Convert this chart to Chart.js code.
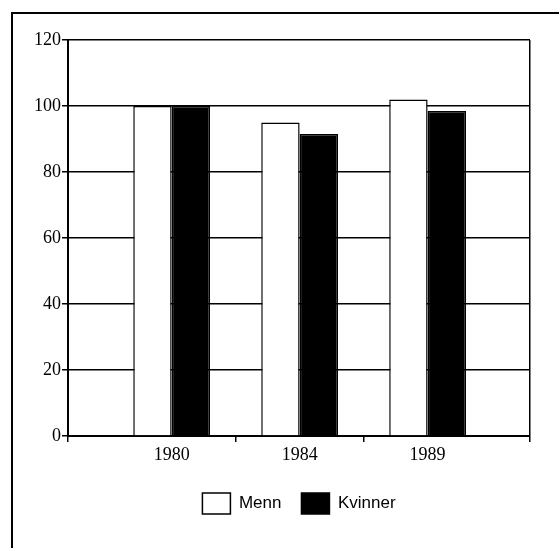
<!DOCTYPE html>
<html lang="no">
<head>
    <meta charset="UTF-8">
    <title>Menn og kvinner</title>
    <script src="https://cdn.jsdelivr.net/npm/chart.js"></script>
    <style>
        html, body { margin: 0; padding: 0; background: #fff; overflow: hidden; }
        .frame {
            position: absolute; left: 11px; top: 12px;
            width: 700px; height: 700px;
            border-left: 2.5px solid #000; border-top: 2.5px solid #000;
        }
        .canvas-container { position: absolute; left: 0; top: 0; width: 559px; height: 548px; }
    </style>
</head>
<body>
<div class="frame"></div>
<div class="canvas-container">
    <canvas id="chart" width="559" height="548"></canvas>
</div>

<script>
    // values
    const years = ['1980', '1984', '1989'];
    const menn = [100, 95, 102];
    const kvinner = [100, 91.5, 98.5];
    const yTicks = [0, 20, 40, 60, 80, 100, 120];

    // x runs as a number axis so the plot box can be wider than the three groups
    const X_MIN = -0.81;
    const X_MAX = 2.8;
    const xTickValues = [X_MIN, 0, 0.5, 1, 1.5, 2, X_MAX];

    const serif = "'Liberation Serif', 'Times New Roman', serif";
    const narrow = "'Liberation Sans Narrow', 'Arial Narrow', 'Liberation Sans', sans-serif";

    Chart.defaults.color = '#000';

    const ctx = document.getElementById('chart').getContext('2d');

    // the tick marks at the half steps halve the bar ruler, so the group share is doubled
    new Chart(ctx, {
        type: 'bar',
        data: {
            datasets: [
                {
                    label: 'Menn',
                    data: menn.map((v, i) => ({ x: i, y: v })),
                    backgroundColor: '#fff',
                    borderColor: '#000',
                    borderWidth: 1.5,
                    categoryPercentage: 1.2,
                    barPercentage: 1.0
                },
                {
                    label: 'Kvinner',
                    data: kvinner.map((v, i) => ({ x: i, y: v })),
                    backgroundColor: '#000',
                    borderColor: '#000',
                    borderWidth: 1.5,
                    categoryPercentage: 1.2,
                    barPercentage: 1.0
                }
            ]
        },
        options: {
            responsive: false,
            animation: false,
            layout: { padding: { left: 0, top: 40, right: 29, bottom: 24 } },
            plugins: {
                tooltip: { enabled: false },
                legend: {
                    display: true,
                    position: 'bottom',
                    fullSize: false,
                    labels: {
                        boxWidth: 28,
                        boxHeight: 21,
                        padding: 20,
                        font: { family: narrow, size: 17 },
                        color: '#000'
                    }
                }
            },
            scales: {
                x: {
                    type: 'linear',
                    min: X_MIN,
                    max: X_MAX,
                    bounds: 'data',
                    offset: false,
                    afterBuildTicks: scale => {
                        scale.ticks = xTickValues.map(v => ({ value: v }));
                    },
                    afterFit: scale => { scale.height = 37; },
                    ticks: {
                        autoSkip: false,
                        maxRotation: 0,
                        padding: 2,
                        font: { family: serif, size: 18 },
                        color: '#000',
                        callback: value => Number.isInteger(value) ? years[value] : ''
                    },
                    grid: {
                        offset: false,
                        drawOnChartArea: true,
                        drawTicks: true,
                        tickLength: 6,
                        lineWidth: 1.5,
                        color: c => (c.tick && c.tick.value === X_MAX) ? '#000' : 'rgba(0,0,0,0)',
                        tickColor: c => (c.tick && Number.isInteger(c.tick.value)) ? 'rgba(0,0,0,0)' : '#000'
                    },
                    border: { display: true, color: '#000', width: 2 }
                },
                y: {
                    min: 0,
                    max: 120,
                    afterBuildTicks: scale => {
                        scale.ticks = yTicks.map(v => ({ value: v }));
                    },
                    afterFit: scale => { scale.width = 68; },
                    ticks: {
                        padding: 1,
                        font: { family: serif, size: 18 },
                        color: '#000'
                    },
                    grid: {
                        color: '#000',
                        lineWidth: 1.5,
                        tickLength: 6
                    },
                    border: { display: true, color: '#000', width: 2 }
                }
            }
        }
    });
</script>
</body>
</html>
